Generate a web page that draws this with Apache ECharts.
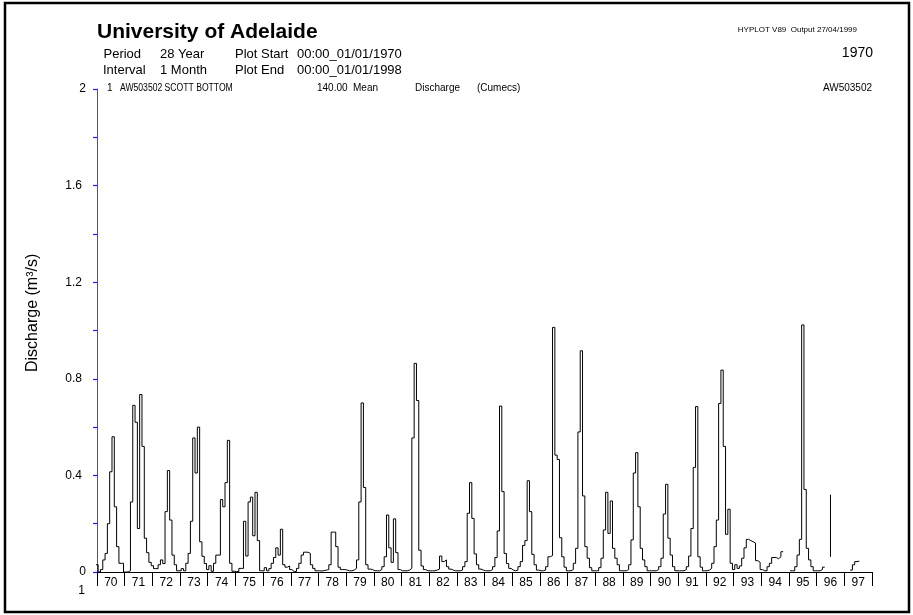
<!DOCTYPE html>
<html><head><meta charset="utf-8">
<script src="https://cdn.jsdelivr.net/npm/echarts@6/dist/echarts.min.js"></script>
<style>html,body{margin:0;padding:0;background:#fff}#c{width:913px;height:615px}</style>
</head><body><div id="c"></div>
<script>
// Monthly mean discharge (m3/s), Jan..Dec, null = missing
const y1970 = [0.03, 0, 0.01, 0.05, 0.077, 0.2, 0.415, 0.56, 0.27, 0.105, 0.036, 0.036];
const y1971 = [0, 0, 0.005, 0.29, 0.69, 0.62, 0.18, 0.735, 0.52, 0.14, 0.08, 0.04];
const y1972 = [0.026, 0.014, 0.014, 0.03, 0.05, 0.035, 0.25, 0.42, 0.215, 0.07, 0.03, 0.005];
const y1973 = [0.005, 0.014, 0.005, 0.036, 0.077, 0.21, 0.555, 0.41, 0.6, 0.125, 0.065, 0.035];
const y1974 = [0.01, 0.026, 0.003, 0.036, 0.07, 0.07, 0.3, 0.27, 0.37, 0.545, 0.036, 0.003];
const y1975 = [0.002, 0.002, 0.015, 0.015, 0.21, 0.066, 0.29, 0.31, 0.15, 0.33, 0.13, 0.005];
const y1976 = [0.005, 0.018, 0.005, 0.014, 0.036, 0.06, 0.1, 0.07, 0.177, 0.03, 0.02, 0.025];
const y1977 = [0.01, 0.002, 0.002, 0.015, 0.036, 0.07, 0.082, 0.082, 0.077, 0.03, 0.015, 0.005];
const y1978 = [0.005, 0.004, 0.006, 0.008, 0.01, 0.03, 0.165, 0.165, 0.105, 0.02, 0.01, 0.01];
const y1979 = [0.008, 0.005, 0.005, 0.008, 0.015, 0.05, 0.29, 0.70, 0.35, 0.03, 0.012, 0.01];
const y1980 = [0.005, 0.005, 0.005, 0.01, 0.022, 0.063, 0.236, 0.1, 0.04, 0.22, 0.08, 0.01];
const y1981 = [0.005, 0.005, 0.005, 0.008, 0.015, 0.555, 0.864, 0.71, 0.09, 0.025, 0.01, 0.005];
const y1982 = [0.005, 0.005, 0.005, 0.008, 0.012, 0.066, 0.043, 0.05, 0.022, 0.012, 0.008, 0.005];
const y1983 = [0.005, 0.005, 0.008, 0.022, 0.043, 0.243, 0.37, 0.222, 0.075, 0.03, 0.012, 0.008];
const y1984 = [0.005, 0.005, 0.005, 0.01, 0.022, 0.06, 0.17, 0.687, 0.333, 0.077, 0.035, 0.015];
const y1985 = [0.008, 0.005, 0.008, 0.022, 0.043, 0.11, 0.13, 0.378, 0.25, 0.073, 0.03, 0.008];
const y1986 = [0.005, 0.005, 0.008, 0.022, 0.063, 0.068, 1.013, 0.484, 0.466, 0.142, 0.063, 0.02];
const y1987 = [0.005, 0.005, 0.01, 0.036, 0.098, 0.58, 0.916, 0.315, 0.105, 0.057, 0.018, 0.005];
const y1988 = [0.005, 0.005, 0.018, 0.057, 0.174, 0.33, 0.16, 0.294, 0.098, 0.057, 0.03, 0.005];
const y1989 = [0.005, 0.005, 0.01, 0.03, 0.133, 0.41, 0.494, 0.27, 0.098, 0.05, 0.022, 0.005];
const y1990 = [0.005, 0.005, 0.005, 0.01, 0.022, 0.057, 0.24, 0.363, 0.14, 0.07, 0.022, 0.005];
const y1991 = [0.005, 0.005, 0.005, 0.01, 0.022, 0.066, 0.18, 0.433, 0.685, 0.063, 0.02, 0.005];
const y1992 = [0.005, 0.008, 0.015, 0.036, 0.105, 0.215, 0.698, 0.836, 0.52, 0.156, 0.26, 0.036];
const y1993 = [0.01, 0.03, 0.015, 0.025, 0.057, 0.1, 0.135, 0.13, 0.125, 0.12, 0.047, 0.04];
const y1994 = [0.01, 0.005, 0.005, 0.022, 0.036, 0.06, 0.06, 0.055, 0.063, 0.084, null, null];
const y1995 = [null, 0.005, 0.005, 0.022, 0.07, 0.135, 1.023, 0.342, 0.098, 0.05, 0.022, 0.005];
const y1996 = [0.005, 0.005, 0.01, 0.02, null, null, null, null, null, null, null, null];
const y1997 = [null, null, null, 0.008, 0.03, 0.043, 0.045, null, null, null, null, null];
// isolated reading in 1996 (July): jump drawn without neighbours
const isolated1996Month = 6;
const isolated1996 = [0.063, 0.32];

const yearLabels = ['70','71','72','73','74','75','76','77','78','79','80','81','82','83','84','85','86','87','88','89','90','91','92','93','94','95','96','97'];
const firstYear = 1970;

const allYears = [y1970,y1971,y1972,y1973,y1974,y1975,y1976,y1977,y1978,y1979,y1980,y1981,y1982,y1983,y1984,y1985,y1986,y1987,y1988,y1989,y1990,y1991,y1992,y1993,y1994,y1995,y1996,y1997];

const pts = [];
allYears.forEach((arr, yi) => arr.forEach((v, k) => {
  const c = yi * 12 + k;
  if (v === null) pts.push([c, '-']);
  else { pts.push([c - 0.5, v]); pts.push([c + 0.5, v]); }
}));
const isoX = (1996 - firstYear) * 12 + isolated1996Month;
const isoPts = isolated1996.map(v => [isoX, v]);

const FONT = '"Liberation Sans", Arial, sans-serif';
function txt(text, x, y, size, opts) {
  opts = opts || {};
  return {
    type: 'text', x: x, y: y, rotation: opts.rotation || 0, silent: true,
    scaleX: opts.scaleX || 1,
    style: {
      text: text, fill: '#000', fontSize: size, fontFamily: FONT,
      fontWeight: opts.bold ? 'bold' : 'normal',
      textAlign: opts.align || 'left', textVerticalAlign: 'middle',
      align: opts.align || 'left', verticalAlign: 'middle'
    }
  };
}

const chart = echarts.init(document.getElementById('c'), null, {renderer: 'canvas'});
chart.setOption({
  animation: false,
  backgroundColor: '#fff',
  grid: {left: 97, right: 41, top: 89, bottom: 43, containLabel: false},
  xAxis: [{
    type: 'category', data: yearLabels, position: 'bottom', boundaryGap: true,
    axisLine: {show: true, lineStyle: {color: '#000', width: 1}},
    axisTick: {show: true, interval: 0, length: 14, lineStyle: {color: '#000', width: 1}},
    axisLabel: {interval: 0, color: '#000', fontSize: 12, fontFamily: FONT, margin: 5},
    splitLine: {show: false}
  }, {
    type: 'value', min: 0, max: allYears.length * 12, show: false
  }],
  yAxis: [{
    type: 'value', min: 0, max: 2, interval: 0.2,
    axisLine: {show: true, lineStyle: {color: '#555', width: 1}},
    axisTick: {show: true, length: 4, lineStyle: {color: '#1a1aff', width: 1.2}},
    axisLabel: {
      color: '#000', fontSize: 12, fontFamily: FONT, margin: 11,
      rich: {p: {width: 4}},
      formatter: function (v) {
        const t = Math.round(v * 10);
        if (t % 4 !== 0) return '';
        if (t === 0) return '0';
        const s = v.toFixed(1).replace(/\.0$/, '');
        return s.length > 1 ? s + '{p|}' : s;
      }
    },
    splitLine: {show: false}
  }],
  series: [{
    type: 'line', xAxisIndex: 1, yAxisIndex: 0, data: pts, showSymbol: false, symbol: 'none',
    connectNulls: false, clip: true, lineStyle: {color: '#000', width: 1}, z: 5
  }, {
    type: 'line', xAxisIndex: 1, yAxisIndex: 0, data: isoPts, showSymbol: false, symbol: 'none',
    clip: true, lineStyle: {color: '#000', width: 1}, z: 5
  }],
  graphic: [
    {type: 'rect', silent: true, z: -1, shape: {x: 5, y: 3, width: 904, height: 609},
     style: {fill: 'none', stroke: '#000', lineWidth: 2.5}},
    txt('University of Adelaide', 97, 32, 21, {bold: true}),
    txt('Period', 103.5, 54, 13),
    txt('28 Year', 160, 54, 13),
    txt('Plot Start', 235, 54, 13),
    txt('00:00_01/01/1970', 297, 54, 13),
    txt('Interval', 103, 70, 13),
    txt('1 Month', 160, 70, 13),
    txt('Plot End', 235, 70, 13),
    txt('00:00_01/01/1998', 297, 70, 13),
    txt('HYPLOT V89  Output 27/04/1999', 857, 30, 8, {align: 'right'}),
    txt('1970', 873, 53, 14, {align: 'right'}),
    txt('1', 107, 88, 10),
    txt('AW503502 SCOTT BOTTOM', 120, 88, 10, {scaleX: 0.86}),
    txt('140.00', 317, 88, 10),
    txt('Mean', 353, 88, 10),
    txt('Discharge', 415, 88, 10),
    txt('(Cumecs)', 477, 88, 10),
    txt('AW503502', 872, 88, 10, {align: 'right'}),
    txt('1', 85, 591, 12, {align: 'right'}),
    txt('Discharge (m³/s)', 33, 372, 16, {rotation: Math.PI / 2})
  ]
});
</script></body></html>
